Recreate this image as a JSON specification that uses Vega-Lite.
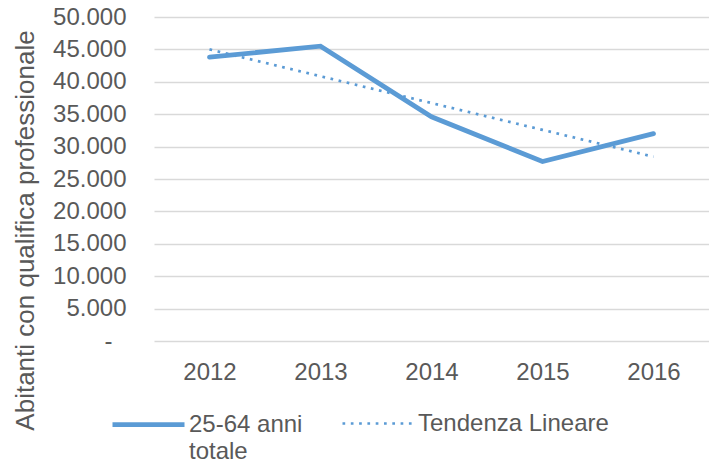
{
  "$schema": "https://vega.github.io/schema/vega-lite/v6.json",
  "width": 555,
  "height": 324,
  "autosize": {"type": "none"},
  "padding": {"left": 154, "top": 17, "right": 0, "bottom": 119},
  "background": "white",
  "config": {
    "font": "Liberation Sans",
    "view": {"stroke": null},
    "style": {"guide-label": {"lineHeight": 27}}
  },
  "data": {
    "values": [
      {"year": "2012", "value": 43800, "series": "25-64 anni totale"},
      {"year": "2013", "value": 45500, "series": "25-64 anni totale"},
      {"year": "2014", "value": 34600, "series": "25-64 anni totale"},
      {"year": "2015", "value": 27700, "series": "25-64 anni totale"},
      {"year": "2016", "value": 32000, "series": "25-64 anni totale"},
      {"year": "2012", "value": 45000, "series": "Tendenza Lineare"},
      {"year": "2013", "value": 40860, "series": "Tendenza Lineare"},
      {"year": "2014", "value": 36720, "series": "Tendenza Lineare"},
      {"year": "2015", "value": 32580, "series": "Tendenza Lineare"},
      {"year": "2016", "value": 28440, "series": "Tendenza Lineare"}
    ]
  },
  "encoding": {
    "x": {
      "field": "year", "type": "ordinal",
      "scale": {"type": "point", "padding": 0.5},
      "axis": {"title": null, "labelAngle": 0, "ticks": false, "domain": false, "grid": false,
               "labelFontSize": 24, "labelColor": "#595959", "labelPadding": 19}
    },
    "y": {
      "field": "value", "type": "quantitative",
      "scale": {"domain": [0, 50000], "nice": false},
      "axis": {
        "title": "Abitanti con qualifica professionale",
        "titleFontSize": 26, "titleFontWeight": "normal", "titleColor": "#595959",
        "titleX": -121, "titleY": 213, "titleBaseline": "alphabetic", "titleAngle": -90,
        "values": [0, 5000, 10000, 15000, 20000, 25000, 30000, 35000, 40000, 45000, 50000],
        "labelExpr": "datum.value == 0 ? '-' : replace(format(datum.value, ','), ',', '.')",
        "labelFontSize": 24, "labelColor": "#595959",
        "labelPadding": {"condition": {"test": "datum.value == 0", "value": 42}, "value": 28},
        "ticks": false, "domain": false,
        "grid": true, "gridColor": "#D9D9D9", "gridWidth": 1.3
      }
    }
  },
  "layer": [
    {
      "transform": [{"filter": "datum.series == '25-64 anni totale'"}],
      "mark": {"type": "line", "strokeWidth": 4.75, "strokeCap": "round", "strokeJoin": "miter"},
      "encoding": {
        "color": {
          "field": "series", "type": "nominal",
          "scale": {"domain": ["25-64 anni totale"], "range": ["#5B9BD5"]},
          "legend": {
            "title": null, "orient": "none", "direction": "vertical",
            "legendX": -44, "legendY": 369, "padding": 0,
            "symbolType": "stroke", "symbolSize": 5184, "symbolStrokeWidth": 4.75,
            "labelFontSize": 24, "labelColor": "#595959", "labelOffset": 2,
            "labelLimit": 300,
            "labelExpr": "['25-64 anni', 'totale']"
          }
        }
      }
    },
    {
      "transform": [{"filter": "datum.series == 'Tendenza Lineare'"}],
      "mark": {"type": "line", "strokeWidth": 2.7, "color": "#5B9BD5", "strokeCap": "butt"},
      "encoding": {
        "strokeDash": {
          "field": "series", "type": "nominal",
          "scale": {"domain": ["Tendenza Lineare"], "range": [[2.7, 5.6]]},
          "legend": {
            "title": null, "orient": "none", "direction": "vertical",
            "legendX": 187, "legendY": 369, "padding": 0,
            "symbolType": "stroke", "symbolSize": 5184, "symbolStrokeWidth": 2.7,
            "symbolStrokeColor": "#5B9BD5",
            "labelFontSize": 24, "labelColor": "#595959", "labelOffset": 2,
            "labelLimit": 300
          }
        }
      }
    }
  ]
}
